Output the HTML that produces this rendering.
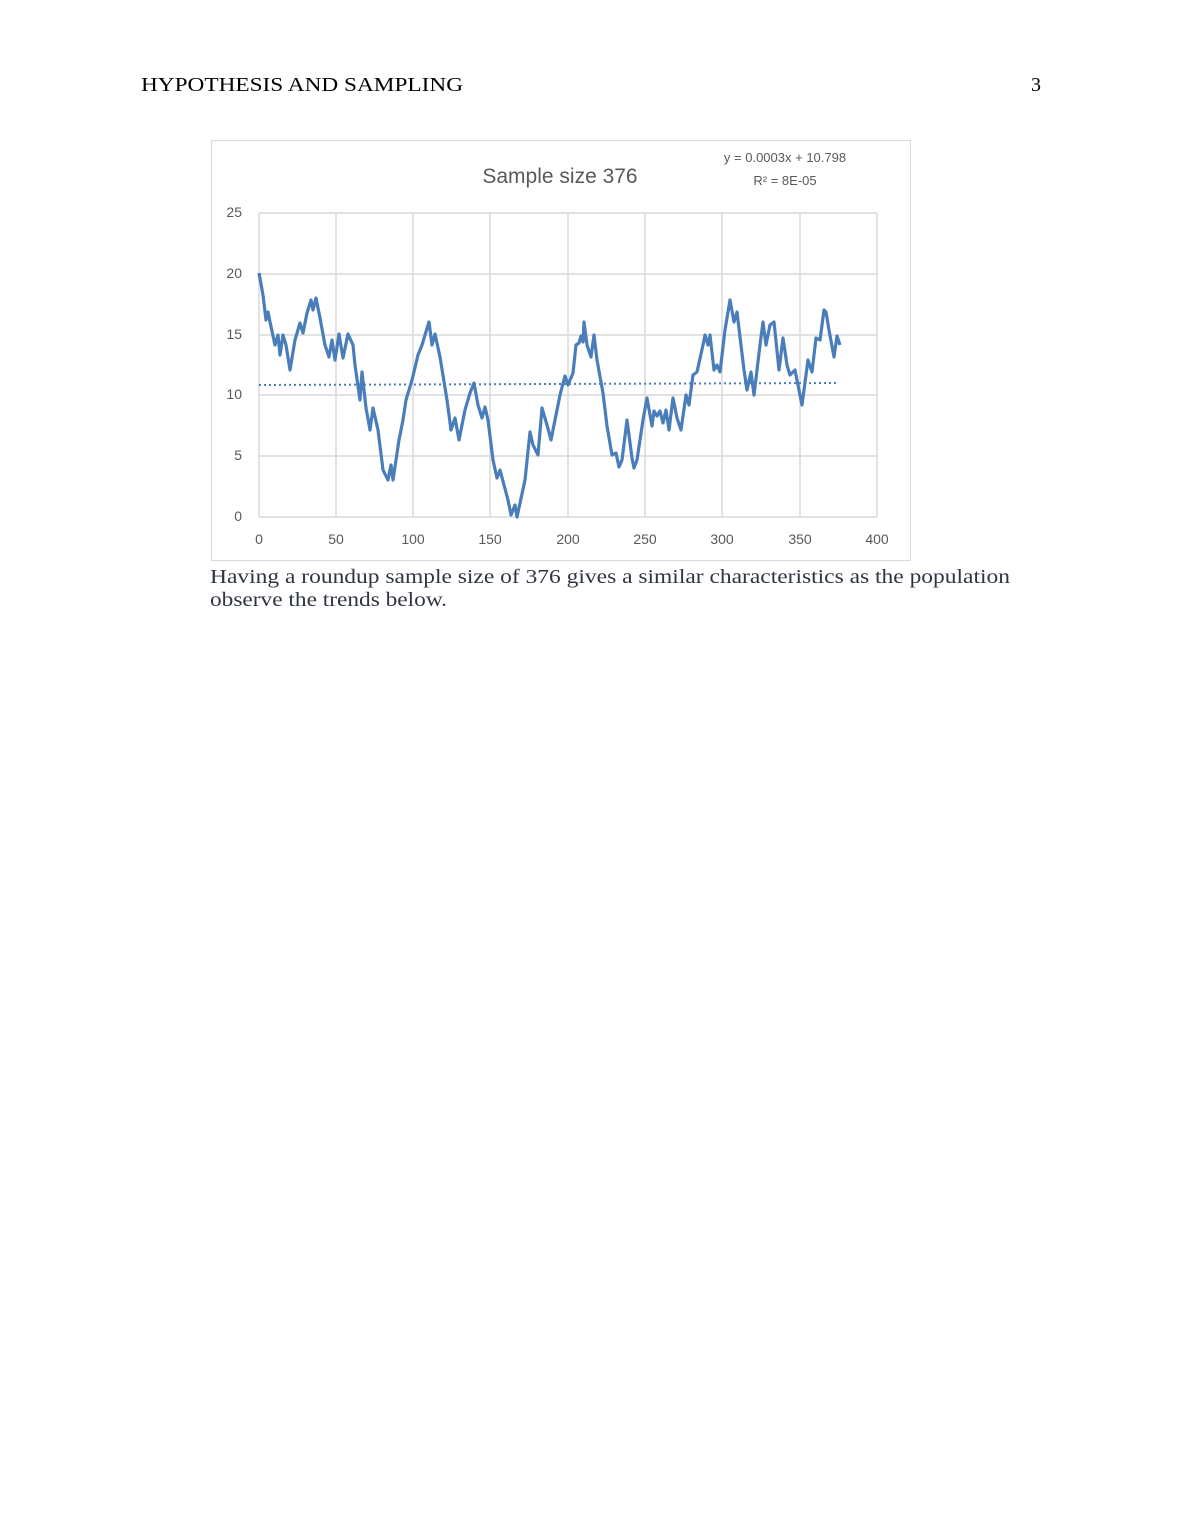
<!DOCTYPE html>
<html><head><meta charset="utf-8"><style>
html,body{margin:0;padding:0;background:#fff;width:1190px;height:1540px;overflow:hidden}
svg{position:absolute;left:0;top:0}
</style></head><body>
<svg width="1190" height="1540" viewBox="0 0 1190 1540" xmlns="http://www.w3.org/2000/svg">
<text x="141" y="91" font-family="Liberation Serif, serif" font-size="20" fill="#000" textLength="322" lengthAdjust="spacingAndGlyphs">HYPOTHESIS AND SAMPLING</text>
<text x="1041" y="91" font-family="Liberation Serif, serif" font-size="20" fill="#000" text-anchor="end">3</text>
<rect x="211.5" y="140.5" width="699" height="420" fill="#fff" stroke="#d9d9d9"/>
<text x="560" y="183" font-family="Liberation Sans, sans-serif" font-size="21" fill="#595959" text-anchor="middle">Sample size 376</text>
<text x="785" y="162" font-family="Liberation Sans, sans-serif" font-size="13" fill="#595959" text-anchor="middle">y = 0.0003x + 10.798</text>
<text x="785" y="185" font-family="Liberation Sans, sans-serif" font-size="13" fill="#595959" text-anchor="middle">R² = 8E-05</text>
<g stroke="#d9d9d9" stroke-width="1.5" fill="none">
<path d="M259 213H877M259 274H877M259 335H877M259 395H877M259 456H877M259 517H877"/>
<path d="M259 213V517M336 213V517M413 213V517M490 213V517M568 213V517M645 213V517M722 213V517M800 213V517M877 213V517"/>
</g>
<g font-family="Liberation Sans, sans-serif" font-size="14" fill="#595959">
<g text-anchor="end"><text x="242" y="217">25</text><text x="242" y="278">20</text><text x="242" y="339">15</text><text x="242" y="399">10</text><text x="242" y="460">5</text><text x="242" y="521">0</text></g>
<g text-anchor="middle"><text x="259" y="544">0</text><text x="336" y="544">50</text><text x="413" y="544">100</text><text x="490" y="544">150</text><text x="568" y="544">200</text><text x="645" y="544">250</text><text x="722" y="544">300</text><text x="800" y="544">350</text><text x="877" y="544">400</text></g>
</g>
<polyline fill="none" stroke="#4a7ebb" stroke-width="3.2" stroke-linejoin="round" points="259,273 263,295 266,320 268,312 270,322 275,345 278,335 280,355 283,335 286,345 290,370 295,340 300,323 303,333 307,313 311,300 313,310 316,298 320,318 325,345 329,357 332,340 335,360 339,334 343,358 348,334 353,345 355,365 360,400 362,372 366,408 370,430 373,408 378,430 383,470 388,480 391,465 393,480 399,440 403,420 406,400 412,380 418,355 422,345 425,335 429,322 432,345 435,334 440,357 447,400 451,430 455,418 459,440 465,410 470,393 474,383 478,405 482,418 485,407 488,420 493,460 497,478 500,470 504,485 508,500 511,515 515,505 517,517 525,480 530,432 533,445 538,455 542,408 547,425 551,440 556,415 560,395 565,376 568,385 573,373 576,345 579,343 581,336 583,342 584,322 587,345 591,357 594,335 597,360 603,393 607,426 612,455 616,453 619,467 622,460 627,420 632,458 634,468 637,460 643,420 647,398 652,426 654,411 657,416 660,411 663,423 666,410 669,430 673,398 677,418 681,430 686,395 689,405 693,375 697,372 703,345 705,335 708,345 710,335 714,370 717,365 720,372 725,330 730,300 734,322 737,312 744,370 747,390 751,372 754,395 760,345 763,322 766,345 770,325 774,322 779,370 783,338 787,365 790,375 795,370 802,405 808,360 812,372 816,338 820,340 824,310 826,312 829,330 834,357 837,336 840,345"/>
<line x1="259" y1="385" x2="838" y2="383" stroke="#4a7ebb" stroke-width="2" stroke-dasharray="2,3"/>
<text x="210" y="583" font-family="Liberation Serif, serif" font-size="20" fill="#2e3440" textLength="800" lengthAdjust="spacingAndGlyphs">Having a roundup sample size of 376 gives a  similar characteristics as the population</text>
<text x="210" y="606" font-family="Liberation Serif, serif" font-size="20" fill="#2e3440" textLength="237" lengthAdjust="spacingAndGlyphs">observe the trends below.</text>
</svg>
</body></html>
